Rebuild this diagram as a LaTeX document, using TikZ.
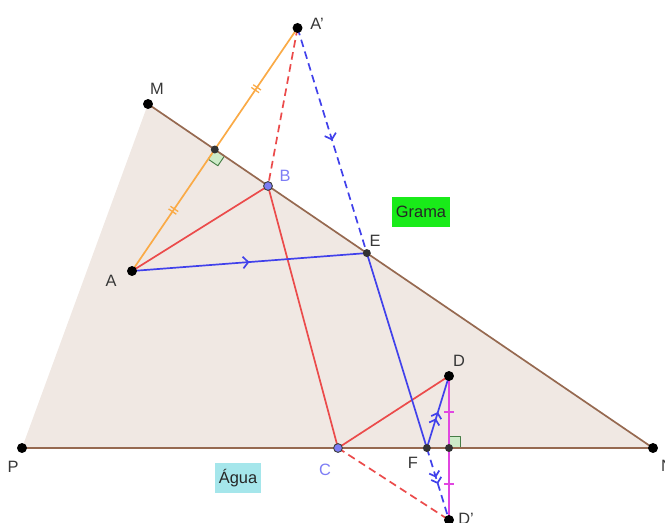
\documentclass[tikz,border=0pt]{standalone}
\usepackage{fontspec}
\setmainfont{Liberation Sans}
\usetikzlibrary{calc,arrows.meta,decorations.markings}
\definecolor{ShoreBrown}{RGB}{150,105,80}
\definecolor{ShoreFill}{RGB}{240,232,227}
\definecolor{PathRed}{RGB}{235,75,75}
\definecolor{PathBlue}{RGB}{65,65,235}
\definecolor{MirrorOrange}{RGB}{250,170,70}
\definecolor{MirrorMagenta}{RGB}{225,70,225}
\definecolor{PointBlue}{RGB}{125,125,245}
\definecolor{LabelGrey}{RGB}{55,55,55}
\definecolor{GrassGreen}{RGB}{25,235,25}
\definecolor{WaterCyan}{RGB}{165,230,235}
\definecolor{AngleGreen}{RGB}{205,235,200}
\definecolor{AngleEdge}{RGB}{70,125,70}

\begin{document}
\begin{tikzpicture}[
x=0.03cm,y=-0.03cm,
line join=round,
seg/.style={line width=1.45pt},
dashline/.style={dash pattern=on 6.5pt off 4pt},
lbl/.style={text=LabelGrey,font=\fontsize{14}{16}\selectfont,inner sep=0pt},
ptlbl/.style={lbl,text=PointBlue},
pt/.style={circle,fill=black,inner sep=0pt,minimum size=8.5pt},
bluept/.style={circle,fill=PointBlue,draw=black!75,line width=0.8pt,inner sep=0pt,minimum size=7.5pt},
footpt/.style={circle,fill=black!80,inner sep=0pt,minimum size=6.8pt},
rightang/.style={fill=AngleGreen,draw=AngleEdge,line width=0.8pt},
areabox/.style={inner sep=0pt,minimum height=25.5pt,text=black!85,font=\fontsize{14}{16}\selectfont},
onearrow/.style={postaction={decorate},decoration={markings,
  mark=at position .5 with {\arrow[solid]{Straight Barb[length=4.5pt,width=10pt]}}}},
twoarrow/.style={postaction={decorate},decoration={markings,
  mark=at position .5 with {\arrow[solid]{Straight Barb[length=4pt,width=9pt] Straight Barb[length=4pt,width=9pt]}}}},
twotick/.style={postaction={decorate},decoration={markings,
  mark=at position .5 with {\draw[solid,MirrorOrange,line width=1.1pt] (-1.4pt,-4pt) -- (-1.4pt,4pt) (1.4pt,-4pt) -- (1.4pt,4pt);}}},
onetick/.style={postaction={decorate},decoration={markings,
  mark=at position .5 with {\draw[solid,MirrorMagenta,line width=1.1pt] (0,-4pt) -- (0,4pt);}}}
]
\useasboundingbox (0,0) rectangle (665,522);

% points
\coordinate (P) at (22,448);
\coordinate (N) at (653,448);
\coordinate (M) at (148,104);
\coordinate (A) at (132,271);
\coordinate (H) at ($(M)!(A)!(N)$);
\coordinate (Ap) at ($(A)!2!(H)$);
\coordinate (B) at (268,186);
\coordinate (C) at (338,448);
\coordinate (D) at (449,376);
\coordinate (K) at ($(P)!(D)!(N)$);
\coordinate (Dp) at ($(D)!2!(K)$);
\coordinate (E) at (intersection of Ap--Dp and M--N);
\coordinate (F) at (intersection of Ap--Dp and P--N);

% grass region
\fill[ShoreFill] (P) -- (M) -- (N) -- cycle;

% right angles
\coordinate (h1) at ($(H)!10pt!(A)$);
\coordinate (h2) at ($(H)!10pt!(N)$);
\filldraw[rightang] (H) -- (h1) -- ($(h1)+(h2)-(H)$) -- (h2) -- cycle;
\coordinate (k1) at ($(K)!10pt!(D)$);
\coordinate (k2) at ($(K)!10pt!(N)$);
\filldraw[rightang] (K) -- (k1) -- ($(k1)+(k2)-(K)$) -- (k2) -- cycle;

\draw[seg,ShoreBrown] (M) -- (N) (P) -- (N);

% reflections
\draw[seg,MirrorOrange,twotick] (A) -- (H);
\draw[seg,MirrorOrange,twotick] (H) -- (Ap);
\draw[seg,MirrorMagenta,onetick] (D) -- (K);
\draw[seg,MirrorMagenta,onetick] (K) -- (Dp);

% red path
\draw[seg,PathRed,dashline] (Ap) -- (B);
\draw[seg,PathRed,dashline] (C) -- (Dp);
\draw[seg,PathRed] (A) -- (B) -- (C) -- (D);

% blue path
\draw[seg,PathBlue,dashline,onearrow] (Ap) -- (E);
\draw[seg,PathBlue,dashline,twoarrow] (F) -- (Dp);
\draw[seg,PathBlue,onearrow] (A) -- (E);
\draw[seg,PathBlue] (E) -- (F);
\draw[seg,PathBlue,twoarrow] (F) -- (D);

% dots
\node[pt] (dA) at (A) {};
\node[pt] (dAp) at (Ap) {};
\node[pt] (dM) at (M) {};
\node[pt] (dP) at (P) {};
\node[pt] (dN) at (N) {};
\node[pt] (dD) at (D) {};
\node[pt] (dDp) at (Dp) {};
\node[footpt] (dH) at (H) {};
\node[footpt] (dE) at (E) {};
\node[footpt] (dF) at (F) {};
\node[footpt] (dK) at (K) {};
\node[bluept] (dB) at (B) {};
\node[bluept] (dC) at (C) {};

% labels
\node[lbl] (lAp) at (317,24) {A'};
\node[lbl] (lM) at (157,89) {M};
\node[ptlbl] (lB) at (285,176) {B};
\node[lbl] (lE) at (375,241) {E};
\node[lbl] (lA) at (111,281) {A};
\node[lbl] (lP) at (13,467) {P};
\node[lbl] (lN) at (667,466) {N};
\node[ptlbl] (lC) at (325,470) {C};
\node[lbl] (lF) at (413,463) {F};
\node[lbl] (lD) at (459,361) {D};
\node[lbl] (lDp) at (466,519) {D'};

\node[areabox,fill=GrassGreen,minimum width=49pt] (grama) at (421,212) {Grama};
\node[areabox,fill=WaterCyan,minimum width=40pt] (agua) at (238,478) {Água};
\end{tikzpicture}
\end{document}
